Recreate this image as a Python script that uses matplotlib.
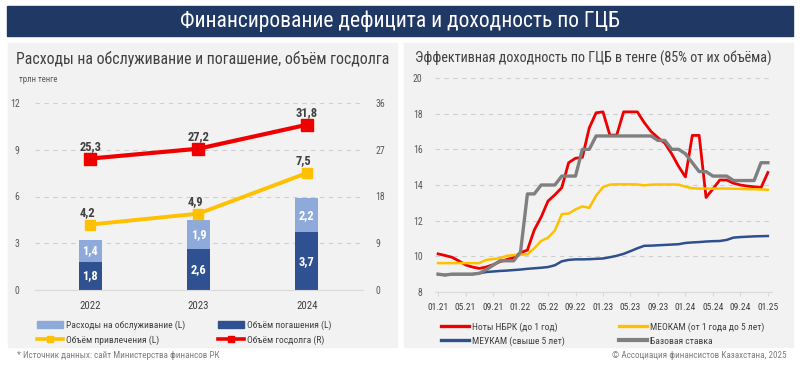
import matplotlib
matplotlib.use('Agg')
import matplotlib.pyplot as plt
from matplotlib.patches import Rectangle, Patch
from matplotlib.lines import Line2D
import numpy as np

plt.rcParams['font.family'] = ['Roboto Condensed', 'DejaVu Sans']

# ---------------- data: left chart ----------------
years = ['2022', '2023', '2024']
service = [1.4, 1.9, 2.2]          # Расходы на обслуживание (L)
repayment = [1.8, 2.6, 3.7]        # Объём погашения (L)
borrowing = [4.2, 4.9, 7.5]        # Объём привлечения (L)
debt = [25.3, 27.2, 31.8]          # Объём госдолга (R)

# ---------------- data: right chart (monthly 01.21 .. 01.25) ----------------
month_labels = ['01.21', '05.21', '09.21', '01.22', '05.22', '09.22', '01.23',
                '05.23', '09.23', '01.24', '05.24', '09.24', '01.25']
notes = [10.14, 10.05, 9.95, 9.75, 9.52, 9.4, 9.32, 9.4, 9.53, 9.7, 9.82, 9.93,
         10.2, 10.35, 11.48, 12.2, 13.1, 13.45, 13.85, 15.25, 15.5, 15.55, 17.2, 18.05,
         18.1, 16.8, 16.8, 18.1, 18.1, 18.1, 17.5, 17.0, 16.65, 16.35, 15.75, 15.05,
         14.45, 16.78, 16.78, 13.3, 13.78, 14.28, 14.28, 14.1, 14.0, 13.94, 13.9, 13.85,
         14.7]
meokam = [9.62, 9.62, 9.62, 9.62, 9.62, 9.62, 9.62, 9.8, 9.85, 9.9, 10.03, 10.07,
          10.08, 10.12, 10.45, 10.86, 11.05, 11.45, 12.37, 12.4, 12.63, 12.8, 12.72, 13.4,
          13.88, 14.02, 14.04, 14.04, 14.04, 14.03, 13.98, 14.02, 14.03, 14.03, 14.03, 14.02,
          13.9, 13.82, 13.8, 13.8, 13.8, 13.8, 13.8, 13.79, 13.78, 13.77, 13.76, 13.75,
          13.73]
meukam = [9.0, 8.95, 9.0, 9.0, 9.0, 9.0, 9.05, 9.12, 9.15, 9.18, 9.2, 9.23,
          9.26, 9.3, 9.33, 9.36, 9.4, 9.5, 9.72, 9.8, 9.83, 9.83, 9.84, 9.86,
          9.88, 9.95, 10.03, 10.14, 10.29, 10.45, 10.59, 10.6, 10.62, 10.64, 10.66, 10.68,
          10.75, 10.78, 10.8, 10.83, 10.85, 10.86, 10.92, 11.05, 11.08, 11.1, 11.12, 11.13,
          11.14]
base_rate = [9.0, 8.95, 9.0, 9.0, 9.0, 9.0, 9.05, 9.25, 9.5, 9.75, 9.75, 9.75,
             10.25, 13.5, 13.5, 14.0, 14.0, 14.0, 14.5, 14.5, 14.5, 16.0, 16.0, 16.75,
             16.75, 16.75, 16.75, 16.75, 16.75, 16.75, 16.75, 16.75, 16.5, 16.5, 16.0, 16.0,
             15.75, 15.25, 14.75, 14.75, 14.5, 14.5, 14.5, 14.25, 14.25, 14.25, 14.25, 15.25,
             15.25]

# ---------------- styles ----------------
NAVY = '#1f3864'
DARK = '#2f5091'
LIGHT = '#8eaadb'
YEL = '#ffc000'
RED = '#ee0000'
BLUE = '#2f4f8f'
GRAY = '#7f7f7f'
TXT = '#404040'
TICK = '#595959'
GRID = '#cfcfcf'
PANEL = '#f2f2f2'

W, H = 800, 369
fig = plt.figure(figsize=(8, 3.69), dpi=100)


def fx(px):
    return px / W


def fy(py):
    return 1 - py / H


# banner
fig.patches.append(Rectangle((fx(7), fy(36)), fx(786), 30 / H, transform=fig.transFigure,
                             color=NAVY, zorder=-2))
fig.text(0.5, fy(21), 'Финансирование дефицита и доходность по ГЦБ', color='white',
         ha='center', va='center', fontsize=15.5)
# panels
for x0 in (8, 404):
    fig.patches.append(Rectangle((fx(x0), fy(347)), fx(389), 304 / H, transform=fig.transFigure,
                                 color=PANEL, zorder=-2))

fig.text(fx(16), fy(59), 'Расходы на обслуживание и погашение, объём госдолга',
         color=TXT, fontsize=11.3, va='center', ha='left')
fig.text(fx(415), fy(58), 'Эффективная доходность по ГЦБ в тенге (85% от их объёма)',
         color=TXT, fontsize=10.2, va='center', ha='left')
fig.text(fx(19), fy(80), 'трлн тенге', color=TICK, fontsize=6.3, va='center', ha='left')


def fmt(v):
    return f'{v:.1f}'.replace('.', ',')


# ---------------- left chart ----------------
ax1 = fig.add_axes([fx(35), 1 - 290 / H, fx(328), 187 / H])
ax1.set_facecolor('none')
x = np.arange(len(years))
bw = 0.21
ax1.bar(x, repayment, bw, color=DARK, zorder=2)
ax1.bar(x, service, bw, bottom=repayment, color=LIGHT, zorder=2)
for xi, r, s in zip(x, repayment, service):
    ax1.text(xi, r / 2, fmt(r), color='white', ha='center', va='center', fontsize=9,
             fontweight='bold', zorder=3)
    ax1.text(xi, r + s / 2, fmt(s), color='white', ha='center', va='center', fontsize=9,
             fontweight='bold', zorder=3)
ax1.plot(x, borrowing, color=YEL, lw=2.8, marker='s', ms=7, zorder=4)
for xi, v in zip(x, borrowing):
    ax1.annotate(fmt(v), (xi, v), xytext=(-2, 4), textcoords='offset points', ha='center',
                 va='bottom', fontsize=9, fontweight='bold', color=TXT)
ax1.set_xlim(-0.51, 2.52)
ax1.set_ylim(0, 12)
ax1.set_yticks([0, 3, 6, 9, 12])
ax1.set_xticks(x)
ax1.set_xticklabels(years)
ax1.grid(axis='y', ls=(0, (4, 4)), color=GRID, lw=0.8, zorder=0)
for s in ('top', 'right', 'left'):
    ax1.spines[s].set_visible(False)
ax1.spines['bottom'].set_color('#d9d9d9')
ax1.tick_params(axis='y', length=0, pad=11, labelcolor=TICK, labelsize=7)
ax1.tick_params(axis='x', length=0, pad=8, labelcolor=TXT, labelsize=7.8)

ax1r = ax1.twinx()
ax1r.plot(x, debt, color=RED, lw=3, marker='s', ms=8, zorder=4)
for xi, v in zip(x, debt):
    ax1r.annotate(fmt(v), (xi, v), xytext=(0, 4), textcoords='offset points', ha='center',
                  va='bottom', fontsize=9, fontweight='bold', color=TXT)
ax1r.set_ylim(0, 36)
ax1r.set_yticks([0, 9, 18, 27, 36])
for s in ax1r.spines.values():
    s.set_visible(False)
ax1r.tick_params(axis='y', length=0, pad=9, labelcolor=TICK, labelsize=7)


def legend_item(handle, label, px, py, hl=2.8):
    leg = fig.legend([handle], [label], loc='center left', bbox_to_anchor=(fx(px), fy(py)),
                     frameon=False, fontsize=6.8, labelcolor=TXT, handlelength=hl,
                     handleheight=0.8, handletextpad=0.25, borderpad=0, borderaxespad=0)
    return leg


legend_item(Patch(color=LIGHT), 'Расходы на обслуживание (L)', 37, 325)
legend_item(Line2D([], [], color=YEL, lw=2.6, marker='s', ms=5), 'Объём привлечения (L)', 37, 340)
legend_item(Patch(color=DARK), 'Объём погашения (L)', 218, 325)
legend_item(Line2D([], [], color=RED, lw=2.6, marker='s', ms=5), 'Объём госдолга (R)', 218, 340)

# ---------------- right chart ----------------
ax2 = fig.add_axes([fx(435), 1 - 292 / H, fx(337), 214 / H])
ax2.set_facecolor('none')
m = np.arange(len(notes))
ax2.plot(m, notes, color=RED, lw=2, zorder=3)
ax2.plot(m, meokam, color=YEL, lw=1.8, zorder=3)
ax2.plot(m, meukam, color=BLUE, lw=1.8, zorder=3)
ax2.plot(m, base_rate, color=GRAY, lw=2.4, zorder=3)
ax2.set_xlim(-0.45, 48.6)
ax2.set_ylim(8, 20)
ax2.set_yticks(np.arange(8, 21, 2))
ax2.set_xticks(np.arange(0, 49, 4))
ax2.set_xticklabels(month_labels)
ax2.grid(axis='y', ls=(0, (4, 4)), color=GRID, lw=0.8, zorder=0)
for s in ('top', 'right', 'left'):
    ax2.spines[s].set_visible(False)
ax2.spines['bottom'].set_color('#d9d9d9')
ax2.tick_params(axis='y', length=0, pad=9, labelcolor=TICK, labelsize=7)
ax2.tick_params(axis='x', length=3, color='#d9d9d9', pad=5, labelcolor=TXT, labelsize=6.8)

legend_item(Line2D([], [], color=RED, lw=2.4), 'Ноты НБРК (до 1 год)', 441, 327, hl=3.0)
legend_item(Line2D([], [], color=BLUE, lw=2.4), 'МЕУКАМ (свыше 5 лет)', 441, 341, hl=3.0)
legend_item(Line2D([], [], color=YEL, lw=2.4), 'МЕОКАМ (от 1 года до 5 лет)', 619, 327, hl=3.0)
legend_item(Line2D([], [], color=GRAY, lw=3.0), 'Базовая ставка', 619, 341, hl=3.0)

# footnotes
fig.text(fx(17), fy(355), '* Источник данных: сайт Министерства финансов РК', color='#7f7f7f',
         fontsize=6.6, va='center', ha='left')
fig.text(fx(786), fy(355), '© Ассоциация финансистов Казахстана, 2025', color='#7f7f7f',
         fontsize=6.6, va='center', ha='right')

fig.savefig('out.png', dpi=100, facecolor='white')
